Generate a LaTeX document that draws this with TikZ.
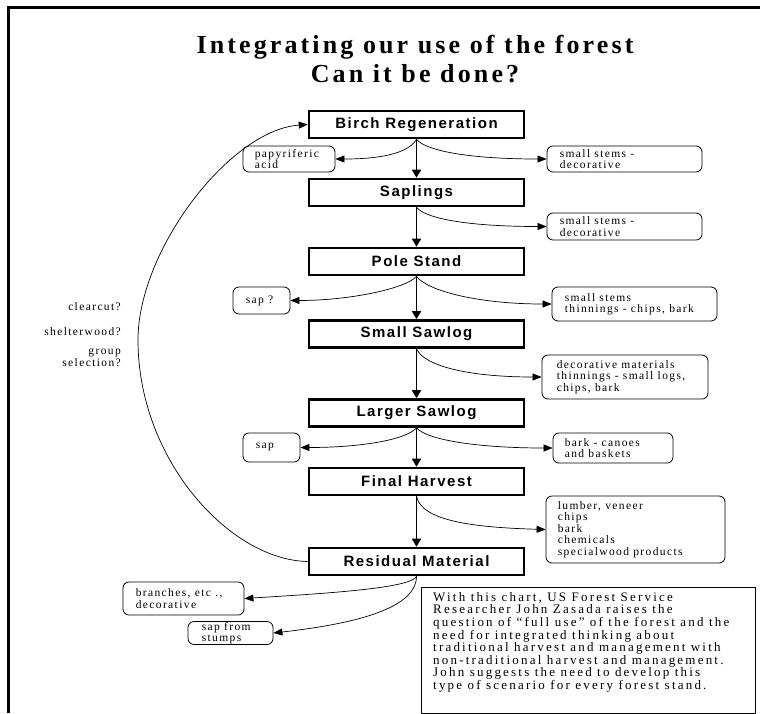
\documentclass[tikz,border=0pt]{standalone}
\usepackage{fontspec}
\usetikzlibrary{arrows.meta}
\newfontfamily\titlefont[LetterSpace=12]{Liberation Serif}
\newfontfamily\boxfont[LetterSpace=10]{Liberation Sans}
\newfontfamily\sidefont[LetterSpace=12]{Liberation Serif}
\newfontfamily\notefont[LetterSpace=17]{Liberation Serif}
\begin{document}
\begin{tikzpicture}[x=1pt,y=-1pt,
  mainbox/.style={draw, line width=2.6pt, minimum width=215pt, minimum height=27pt, inner sep=0pt,
    font=\boxfont\bfseries\fontsize{15}{17}\selectfont},
  sidebox/.style={draw, line width=0.8pt, rounded corners=6pt, inner sep=0pt},
  sidetext/.style={anchor=west, inner sep=0pt, align=left,
    font=\sidefont\fontsize{11.5}{11.5}\selectfont},
  labeltext/.style={anchor=east, inner sep=0pt, align=right,
    font=\sidefont\fontsize{11.5}{11.5}\selectfont},
  mainarrow/.style={line width=1.6pt, -{Triangle[width=9pt,length=8pt]}},
  sidearrow/.style={line width=0.7pt, -{Triangle[width=7pt,length=9pt]}},
  titletext/.style={anchor=base, inner sep=0pt, font=\titlefont\bfseries\fontsize{26}{28}\selectfont},
]
\useasboundingbox (0,0) rectangle (760,713);
\fill[white] (0,0) rectangle (760,713);
% frame
\draw[line width=3pt] (8,713) -- (8,7) -- (760,7);

% title
\node[titletext] (title1) at (415,53) {Integrating our use of the forest};
\node[titletext] (title2) at (415,82) {Can it be done?};

% main chain
\node[mainbox] (birch)    at (416.5,124.5) {Birch Regeneration};
\node[mainbox] (saplings) at (416.5,192.5) {Saplings};
\node[mainbox] (pole)     at (416.5,261.5) {Pole Stand};
\node[mainbox] (small)    at (416.5,334)   {Small Sawlog};
\node[mainbox] (larger)   at (416.5,413)   {Larger Sawlog};
\node[mainbox] (final)    at (416.5,481.5) {Final Harvest};
\node[mainbox] (residual) at (416.5,561.5) {Residual Material};

\draw[mainarrow] (birch.south) -- (saplings.north);
\draw[mainarrow] (saplings.south) -- (pole.north);
\draw[mainarrow] (pole.south) -- (small.north);
\draw[mainarrow] (small.south) -- (larger.north);
\draw[mainarrow] (larger.south) -- (final.north);
\draw[mainarrow] (final.south) -- (residual.north);

% side boxes
\node[sidebox, minimum width=92pt, minimum height=26pt] (papyr) at (289,159) {};
\node[sidetext] (papyrt) at ([xshift=12pt]papyr.west) {papyriferic\\acid};

\node[sidebox, minimum width=155pt, minimum height=26pt] (ss1) at (624.5,159) {};
\node[sidetext] (ss1t) at ([xshift=13pt]ss1.west) {small stems -\\decorative};

\node[sidebox, minimum width=155pt, minimum height=27pt] (ss2) at (624.5,226.5) {};
\node[sidetext] (ss2t) at ([xshift=13pt]ss2.west) {small stems -\\decorative};

\node[sidebox, minimum width=57pt, minimum height=27pt] (sapq) at (261.5,300.5) {};
\node[sidetext] (sapqt) at ([xshift=13pt]sapq.west) {sap ?};

\node[sidebox, minimum width=165pt, minimum height=34pt] (ss3) at (634.5,304) {};
\node[sidetext] (ss3t) at ([xshift=13pt]ss3.west) {small stems\\thinnings - chips, bark};

\node[sidebox, minimum width=166pt, minimum height=44pt] (dec) at (625,377) {};
\node[sidetext] (dect) at ([xshift=15pt]dec.west) {decorative materials\\thinnings - small logs,\\chips, bark};

\node[sidebox, minimum width=57pt, minimum height=29pt] (sap) at (271.5,447.5) {};
\node[sidetext] (sapt) at ([xshift=13pt]sap.west) {sap};

\node[sidebox, minimum width=120pt, minimum height=30pt] (bark) at (613,448) {};
\node[sidetext] (barkt) at ([xshift=12pt]bark.west) {bark - canoes\\and baskets};

\node[sidebox, minimum width=179pt, minimum height=67pt] (lumber) at (635.5,529.5) {};
\node[sidetext] (lumbert) at ([xshift=12pt]lumber.west) {lumber, veneer\\chips\\bark\\chemicals\\specialwood products};

\node[sidebox, minimum width=121pt, minimum height=33pt] (branches) at (183.5,598.5) {};
\node[sidetext] (branchest) at ([xshift=13pt]branches.west) {branches, etc .,\\decorative};

\node[sidebox, minimum width=85pt, minimum height=23pt] (stumps) at (230.5,633) {};
\node[sidetext] (stumpst) at ([xshift=14pt]stumps.west) {sap from\\stumps};

% side connectors
\draw[sidearrow] (birch.south) .. controls +(-8,14) and +(45,0) .. (papyr.east);
\draw[sidearrow] (birch.south) .. controls +(10,12) and +(-75,0) .. (ss1.west);
\draw[sidearrow] (saplings.south) .. controls +(10,12) and +(-75,0) .. (ss2.west);
\draw[sidearrow] (pole.south) .. controls +(-10,12) and +(60,0) .. (sapq.east);
\draw[sidearrow] (pole.south) .. controls +(10,14) and +(-75,0) .. (ss3.west);
\draw[sidearrow] (small.south) .. controls +(8,18) and +(-70,0) .. (dec.west);
\draw[sidearrow] (larger.south) .. controls +(-10,12) and +(60,0) .. (sap.east);
\draw[sidearrow] (larger.south) .. controls +(10,12) and +(-75,0) .. (bark.west);
\draw[sidearrow] (final.south) .. controls +(5,25) and +(-70,-2) .. (lumber.west);
\draw[sidearrow] (residual.south) .. controls +(-5,12) and +(80,-5) .. (branches.east);
\draw[sidearrow] (residual.south) .. controls +(0,35) and +(70,-8) .. (stumps.east);

% big return curve
\draw[sidearrow] (residual.west) .. controls (230,560) and (138,460) .. (138,340)
  .. controls (138,250) and (230,130) .. (birch.west);

% left labels
\node[labeltext] (clear) at (121,307) {clearcut?};
\node[labeltext] (shelter) at (121,332) {shelterwood?};
\node[labeltext] (group) at (121,357.5) {group\\selection?};

% note box
\node[draw, line width=0.9pt, anchor=north west, minimum width=334pt, minimum height=126pt, inner sep=0pt] (notebox) at (421,587) {};
\node[anchor=north west, inner sep=0pt, align=left,
  font=\notefont\fontsize{13}{12.6}\selectfont] (note) at ([xshift=12pt,yshift=-5pt]notebox.north west)
  {With this chart, US Forest Service\\
   Researcher John Zasada raises the\\
   question of “full use” of the forest and the\\
   need for integrated thinking about\\
   traditional harvest and management with\\
   non-traditional harvest and management.\\
   John suggests the need to develop this\\
   type of scenario for every forest stand.};
\end{tikzpicture}
\end{document}
